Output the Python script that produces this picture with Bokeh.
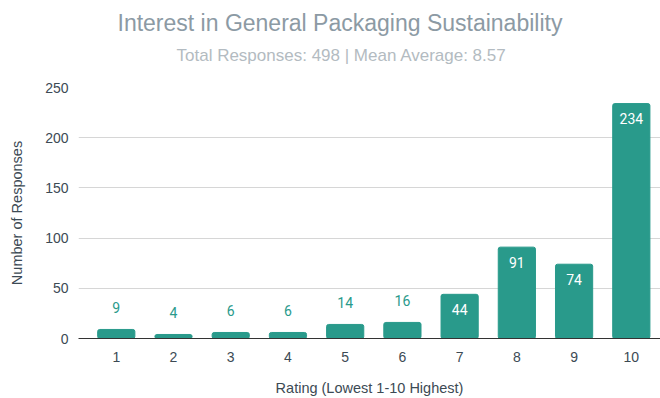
from bokeh.plotting import figure
from bokeh.models import ColumnDataSource, Range1d, FixedTicker, Title
from bokeh.core.properties import value
from bokeh.embed import file_html
from bokeh.resources import INLINE

ratings = [1, 2, 3, 4, 5, 6, 7, 8, 9, 10]
responses = [9, 4, 6, 6, 14, 16, 44, 91, 74, 234]
title_text = "Interest in General Packaging Sustainability"
subtitle_text = "Total Responses: 498 | Mean Average: 8.57"
x_label = "Rating (Lowest 1-10 Highest)"
y_label = "Number of Responses"
y_ticks = [0, 50, 100, 150, 200, 250]

BAR = "#299a8b"
TXT = "#3c4a54"

p = figure(width=660, height=398, output_backend="svg", toolbar_location=None,
           x_range=Range1d(0.34, 10.51), y_range=Range1d(0, 250),
           min_border_left=78, min_border_right=0, min_border_top=87, min_border_bottom=59)
p.outline_line_color = None
p.background_fill_color = "white"
p.border_fill_color = "white"

src = ColumnDataSource(dict(x=ratings, top=responses, label=[str(v) for v in responses]))
p.vbar(x="x", top="top", width=0.65, source=src, color=BAR, border_radius=2)

out_idx = [i for i, v in enumerate(responses) if v < 40]
in_idx = [i for i, v in enumerate(responses) if v >= 40]
src_out = ColumnDataSource(dict(x=[ratings[i] for i in out_idx], y=[responses[i] for i in out_idx],
                                t=[str(responses[i]) for i in out_idx]))
src_in = ColumnDataSource(dict(x=[ratings[i] for i in in_idx], y=[responses[i] for i in in_idx],
                               t=[str(responses[i]) for i in in_idx]))
p.text(x="x", y="y", text="t", source=src_out, text_align="center", text_baseline="middle",
       y_offset=-22, text_color=BAR, text_font=value("Roboto"), text_font_size="14px")
p.text(x="x", y="y", text="t", source=src_in, text_align="center", text_baseline="middle",
       y_offset=15, text_color="white", text_font=value("Roboto"), text_font_size="14px")

p.xgrid.grid_line_color = None
p.ygrid.grid_line_color = "#d6d6d6"
p.ygrid.grid_line_width = 1
p.yaxis.ticker = FixedTicker(ticks=y_ticks)
p.xaxis.ticker = FixedTicker(ticks=ratings)

for ax in (p.xaxis[0], p.yaxis[0]):
    ax.major_tick_line_color = None
    ax.minor_tick_line_color = None
    ax.major_label_text_color = TXT
    ax.major_label_text_font = "Liberation Sans"
    ax.major_label_text_font_size = "14px"
    ax.axis_label_text_color = TXT
    ax.axis_label_text_font = "Liberation Sans"
    ax.axis_label_text_font_size = "14.5px"
    ax.axis_label_text_font_style = "normal"

p.xaxis.axis_line_color = "#333333"
p.xaxis.axis_line_width = 1
p.xaxis.major_label_standoff = 7
p.xaxis.axis_label = x_label
p.xaxis.axis_label_standoff = 15
p.yaxis.axis_line_color = None
p.yaxis.major_label_standoff = 4
p.yaxis.axis_label = y_label
p.yaxis.axis_label_standoff = 17

# main title (outermost)
p.title.text = title_text
p.title.align = "left"
p.title.offset = 39
p.title.text_color = "#8c9aa4"
p.title.text_font = "Liberation Sans"
p.title.text_font_size = "23px"
p.title.text_font_style = "normal"
p.title.standoff = 15

# blank spacer between the frame and the subtitle
p.add_layout(Title(text=" ", text_font_size="1px", standoff=20), "above")
# subtitle
p.add_layout(Title(text=subtitle_text, align="left", offset=98, text_color="#b3bbc1",
                   text_font="Liberation Sans", text_font_size="17px", text_font_style="normal",
                   standoff=0), "above")

open("out.html", "w").write(file_html(p, INLINE))
